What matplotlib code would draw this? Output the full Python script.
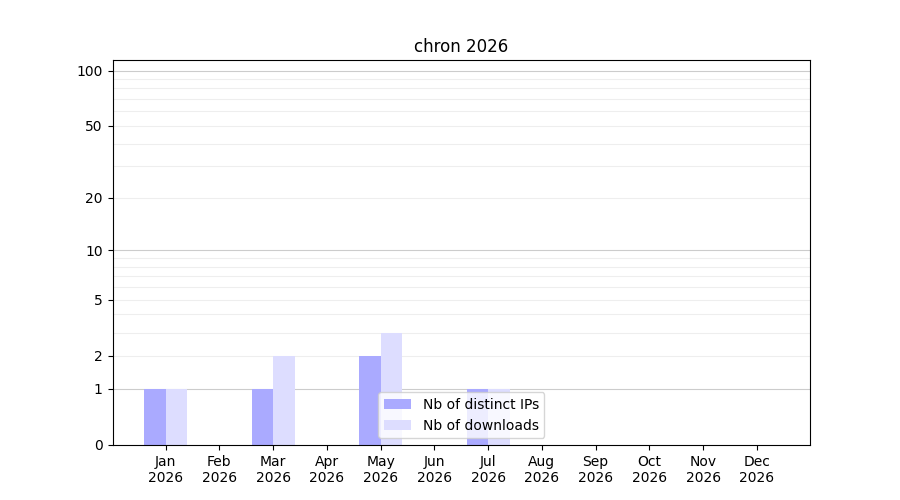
import numpy as np
import matplotlib
matplotlib.use("Agg")
import matplotlib.pyplot as plt

months = ["Jan", "Feb", "Mar", "Apr", "May", "Jun", "Jul", "Aug", "Sep", "Oct", "Nov", "Dec"]
year = "2026"
distinct_ips = [1, 0, 1, 0, 2, 0, 1, 0, 0, 0, 0, 0]
downloads = [1, 0, 2, 0, 3, 0, 1, 0, 0, 0, 0, 0]
ytick_values = [0, 1, 2, 5, 10, 20, 50, 100]
major_grid = [1, 10, 100]
minor_grid = [2, 3, 4, 5, 6, 7, 8, 9, 20, 30, 40, 50, 60, 70, 80, 90]

fig, ax = plt.subplots(figsize=(9, 5), dpi=100)

def fwd(y):
    return np.log10(1 + np.clip(y, 0, None))

def inv(y):
    return 10 ** y - 1

ax.set_yscale("function", functions=(fwd, inv))

x = np.arange(len(months))
w = 0.4
ax.bar(x - w / 2, distinct_ips, width=w, color="#aaaaff", label="Nb of distinct IPs", zorder=2)
ax.bar(x + w / 2, downloads, width=w, color="#ddddff", label="Nb of downloads", zorder=2)

for v in minor_grid:
    ax.axhline(v, color="#eeeeee", linewidth=0.8, zorder=0)
for v in major_grid:
    ax.axhline(v, color="#cccccc", linewidth=0.8, zorder=0)

ax.set_xticks(x)
ax.set_xticklabels([f"{m}\n{year}" for m in months])
ax.set_yticks(ytick_values)
ax.set_yticklabels([str(v) for v in ytick_values])
ax.minorticks_off()
ax.set_ylim(0, 114)
ax.set_xlim(-0.99, 11.99)
ax.set_title("chron 2026")
ax.legend(loc="lower center")

fig.savefig("out.png", dpi=100)
